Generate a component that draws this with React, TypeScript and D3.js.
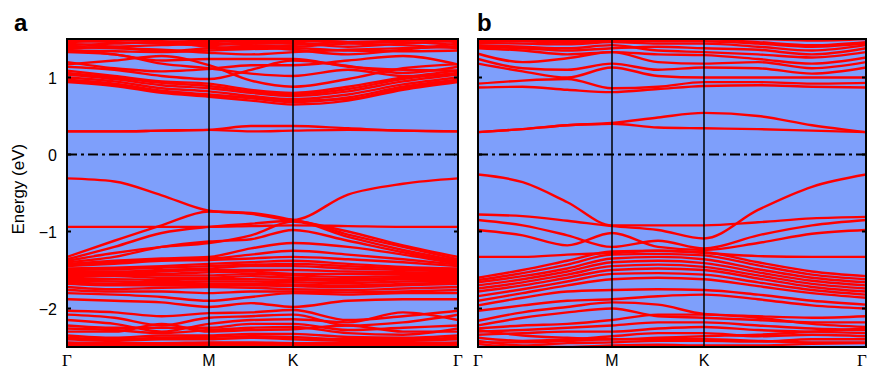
import React, { useEffect, useRef } from 'react';
import * as d3 from 'd3';

// k-path nodes: Γ, 1/3 ΓM, 2/3 ΓM, M, ½ MK, K, 1/3 KΓ, 2/3 KΓ, Γ
const kNodes = [0, 1 / 3, 2 / 3, 1, 1.5, 2, 2 + 1 / 3, 2 + 2 / 3, 3];
const kLabels = ['Γ', 'M', 'K', 'Γ'];
const yTicks = [-2, -1, 0, 1];

// ---- panel a ----
const conductionA = [
  [0.94, 0.89, 0.80, 0.75, 0.70, 0.65, 0.70, 0.84, 0.94],
  [0.96, 0.90, 0.82, 0.77, 0.74, 0.70, 0.72, 0.86, 0.96],
  [0.97, 0.92, 0.83, 0.78, 0.73, 0.68, 0.74, 0.88, 0.97],
  [1.00, 0.95, 0.86, 0.82, 0.76, 0.72, 0.78, 0.91, 1.00],
  [1.04, 0.98, 0.90, 0.86, 0.80, 0.76, 0.82, 0.95, 1.04],
  [1.06, 1.00, 0.93, 0.89, 0.82, 0.78, 0.85, 0.98, 1.06],
  [1.09, 1.02, 0.95, 0.92, 0.84, 0.80, 0.88, 1.00, 1.09],
  [1.14, 1.10, 1.02, 0.98, 1.10, 1.22, 1.15, 1.06, 1.14],
  [1.17, 1.22, 1.28, 1.16, 0.96, 0.88, 0.98, 1.12, 1.17],
  [1.20, 1.12, 1.08, 1.11, 1.16, 1.16, 1.22, 1.28, 1.17],
  [1.33, 1.30, 1.18, 1.12, 1.05, 1.02, 1.10, 1.02, 1.04],
  [1.36, 1.30, 1.22, 1.24, 1.24, 1.24, 1.14, 1.10, 1.09],
  [1.35, 1.34, 1.33, 1.35, 1.37, 1.38, 1.35, 1.34, 1.35],
  [1.38, 1.40, 1.42, 1.44, 1.42, 1.40, 1.44, 1.42, 1.38],
  [1.40, 1.38, 1.36, 1.32, 1.30, 1.33, 1.36, 1.38, 1.40],
  [1.42, 1.44, 1.46, 1.40, 1.38, 1.42, 1.46, 1.46, 1.42],
  [1.44, 1.40, 1.34, 1.38, 1.40, 1.36, 1.30, 1.36, 1.44],
  [1.46, 1.48, 1.50, 1.48, 1.46, 1.46, 1.50, 1.49, 1.46],
  [1.48, 1.46, 1.44, 1.42, 1.44, 1.44, 1.40, 1.44, 1.48],
  [1.50, 1.49, 1.47, 1.46, 1.48, 1.48, 1.46, 1.48, 1.50],
];
const flatA = [
  [0.30, 0.30, 0.31, 0.32, 0.37, 0.37, 0.34, 0.31, 0.30],
  [0.30, 0.30, 0.31, 0.32, 0.30, 0.31, 0.32, 0.31, 0.30],
];
const valenceA = [
  [-0.31, -0.35, -0.53, -0.73, -0.77, -0.85, -0.52, -0.38, -0.31],
  [-0.94, -0.94, -0.94, -0.94, -0.93, -0.92, -0.93, -0.94, -0.94],
  [-1.33, -1.12, -0.92, -0.74, -0.76, -0.85, -1.00, -1.18, -1.33],
  [-1.36, -1.20, -1.02, -0.94, -0.90, -0.86, -1.04, -1.20, -1.36],
  [-1.38, -1.28, -1.20, -1.15, -1.05, -0.87, -1.07, -1.24, -1.38],
  [-1.40, -1.33, -1.20, -1.13, -1.10, -0.98, -1.12, -1.27, -1.40],
  [-1.42, -1.38, -1.35, -1.33, -1.22, -1.15, -1.20, -1.30, -1.42],
  [-1.43, -1.40, -1.36, -1.35, -1.30, -1.25, -1.30, -1.36, -1.43],
  [-1.45, -1.42, -1.38, -1.37, -1.35, -1.33, -1.36, -1.40, -1.45],
  [-1.48, -1.47, -1.45, -1.42, -1.40, -1.38, -1.42, -1.46, -1.48],
  [-1.50, -1.49, -1.47, -1.45, -1.43, -1.42, -1.45, -1.48, -1.50],
  [-1.52, -1.52, -1.50, -1.48, -1.45, -1.45, -1.48, -1.50, -1.52],
  [-1.54, -1.54, -1.52, -1.50, -1.50, -1.50, -1.52, -1.53, -1.54],
  [-1.56, -1.55, -1.55, -1.53, -1.52, -1.55, -1.55, -1.55, -1.56],
  [-1.58, -1.57, -1.57, -1.57, -1.55, -1.57, -1.59, -1.58, -1.58],
  [-1.60, -1.58, -1.60, -1.60, -1.58, -1.60, -1.62, -1.60, -1.60],
  [-1.62, -1.62, -1.63, -1.62, -1.62, -1.63, -1.64, -1.62, -1.62],
  [-1.64, -1.65, -1.66, -1.65, -1.65, -1.66, -1.67, -1.65, -1.64],
  [-1.66, -1.68, -1.68, -1.68, -1.68, -1.69, -1.70, -1.68, -1.66],
  [-1.68, -1.70, -1.70, -1.70, -1.70, -1.71, -1.72, -1.70, -1.68],
  [-1.72, -1.75, -1.73, -1.72, -1.73, -1.75, -1.76, -1.74, -1.72],
  [-1.76, -1.78, -1.78, -1.80, -1.78, -1.78, -1.79, -1.78, -1.76],
  [-1.80, -1.82, -1.85, -1.90, -1.85, -1.80, -1.82, -1.80, -1.80],
  [-1.88, -1.90, -1.92, -1.98, -1.93, -1.98, -1.90, -1.88, -1.88],
  [-2.03, -2.05, -2.10, -2.06, -2.05, -2.02, -2.15, -2.10, -2.03],
  [-2.08, -2.12, -2.22, -2.12, -2.10, -2.08, -2.22, -2.18, -2.08],
  [-2.15, -2.20, -2.30, -2.20, -2.15, -2.14, -2.18, -2.05, -2.15],
  [-2.22, -2.25, -2.25, -2.25, -2.20, -2.20, -2.28, -2.25, -2.22],
  [-2.26, -2.28, -2.32, -2.28, -2.25, -2.24, -2.32, -2.34, -2.26],
  [-2.30, -2.30, -2.20, -2.30, -2.28, -2.27, -2.22, -2.30, -2.30],
  [-2.35, -2.38, -2.35, -2.35, -2.33, -2.33, -2.37, -2.38, -2.35],
  [-2.38, -2.40, -2.38, -2.37, -2.36, -2.37, -2.40, -2.40, -2.38],
  [-2.40, -2.42, -2.40, -2.40, -2.38, -2.40, -2.42, -2.42, -2.40],
  [-2.44, -2.45, -2.45, -2.44, -2.44, -2.45, -2.45, -2.45, -2.44],
  [-2.46, -2.47, -2.46, -2.46, -2.46, -2.46, -2.47, -2.47, -2.46],
  [-2.48, -2.48, -2.48, -2.48, -2.48, -2.48, -2.48, -2.48, -2.48],
];

// ---- panel b ----
const conductionB = [
  [0.87, 0.88, 0.84, 0.81, 0.85, 0.89, 0.90, 0.88, 0.87],
  [0.92, 0.96, 0.98, 0.86, 0.88, 0.94, 0.94, 0.92, 0.93],
  [1.18, 1.08, 1.00, 1.13, 1.02, 1.00, 1.00, 1.00, 1.00],
  [1.24, 1.12, 1.10, 1.18, 1.10, 1.13, 1.12, 1.05, 1.13],
  [1.31, 1.20, 1.25, 1.33, 1.20, 1.18, 1.20, 1.12, 1.20],
  [1.38, 1.35, 1.30, 1.33, 1.30, 1.29, 1.24, 1.18, 1.26],
  [1.40, 1.38, 1.35, 1.38, 1.40, 1.38, 1.36, 1.30, 1.38],
  [1.42, 1.40, 1.38, 1.42, 1.35, 1.33, 1.30, 1.26, 1.33],
  [1.45, 1.44, 1.43, 1.46, 1.44, 1.44, 1.40, 1.35, 1.42],
  [1.46, 1.47, 1.45, 1.48, 1.47, 1.47, 1.44, 1.40, 1.44],
  [1.48, 1.48, 1.47, 1.50, 1.49, 1.50, 1.46, 1.42, 1.46],
  [1.50, 1.50, 1.50, 1.50, 1.50, 1.50, 1.50, 1.48, 1.50],
];
const flatB = [
  [0.29, 0.33, 0.38, 0.41, 0.48, 0.54, 0.50, 0.38, 0.29],
  [0.29, 0.33, 0.38, 0.40, 0.35, 0.34, 0.33, 0.31, 0.29],
];
const valenceB = [
  [-0.26, -0.36, -0.62, -0.92, -0.92, -0.92, -0.88, -0.83, -0.81],
  [-0.78, -0.80, -0.86, -0.93, -0.98, -1.09, -0.72, -0.42, -0.26],
  [-0.85, -0.92, -1.05, -1.20, -1.12, -1.22, -1.05, -0.92, -0.85],
  [-0.98, -1.05, -1.18, -1.02, -1.20, -1.24, -1.15, -1.03, -0.98],
  [-1.33, -1.33, -1.30, -1.28, -1.25, -1.28, -1.32, -1.33, -1.33],
  [-1.60, -1.50, -1.38, -1.26, -1.25, -1.27, -1.40, -1.52, -1.58],
  [-1.63, -1.54, -1.43, -1.30, -1.29, -1.31, -1.44, -1.56, -1.62],
  [-1.66, -1.58, -1.48, -1.35, -1.33, -1.36, -1.49, -1.60, -1.66],
  [-1.70, -1.62, -1.52, -1.40, -1.38, -1.41, -1.53, -1.64, -1.70],
  [-1.74, -1.66, -1.56, -1.45, -1.43, -1.46, -1.57, -1.68, -1.74],
  [-1.78, -1.70, -1.60, -1.50, -1.48, -1.50, -1.61, -1.72, -1.78],
  [-1.84, -1.75, -1.65, -1.55, -1.54, -1.56, -1.66, -1.76, -1.82],
  [-1.90, -1.80, -1.70, -1.62, -1.60, -1.62, -1.71, -1.80, -1.86],
  [-1.96, -1.86, -1.78, -1.76, -1.75, -1.76, -1.82, -1.90, -1.95],
  [-2.03, -1.96, -1.90, -1.88, -1.84, -1.82, -1.88, -1.96, -2.00],
  [-2.16, -2.05, -1.98, -1.92, -1.95, -2.07, -2.10, -2.12, -2.10],
  [-2.22, -2.12, -2.05, -2.00, -2.10, -2.12, -2.15, -2.18, -2.18],
  [-2.26, -2.22, -2.20, -2.15, -2.08, -2.08, -2.12, -2.20, -2.24],
  [-2.28, -2.35, -2.38, -2.40, -2.38, -2.36, -2.34, -2.30, -2.26],
  [-2.30, -2.28, -2.25, -2.22, -2.18, -2.18, -2.22, -2.26, -2.28],
  [-2.34, -2.32, -2.30, -2.30, -2.26, -2.24, -2.28, -2.30, -2.32],
  [-2.38, -2.42, -2.40, -2.36, -2.32, -2.32, -2.36, -2.34, -2.36],
  [-2.42, -2.48, -2.45, -2.44, -2.42, -2.42, -2.43, -2.40, -2.40],
  [-2.44, -2.44, -2.42, -2.40, -2.40, -2.40, -2.42, -2.44, -2.44],
  [-2.46, -2.50, -2.50, -2.48, -2.47, -2.48, -2.48, -2.46, -2.45],
];

const App: React.FC = () => {
  const svgRef = useRef<SVGSVGElement | null>(null);

  useEffect(() => {
    if (!svgRef.current) return;
    const width = 869;
    const height = 371;
    const svg = d3.select(svgRef.current);
    svg.selectAll('*').remove();

    const sans = 'Liberation Sans, Arial, Helvetica, sans-serif';
    const serif = 'Liberation Serif, Times New Roman, serif';
    const bgColor = '#7e9ffb';
    const bandColor = '#ff0000';

    const top = 39;
    const bottom = 347;
    const yScale = d3.scaleLinear().domain([-2.5, 1.5]).range([bottom, top]);

    const panels = [
      { id: 'a', xs: [67, 209, 293, 458], bands: [...conductionA, ...flatA, ...valenceA], showY: true },
      { id: 'b', xs: [478, 612, 704, 866], bands: [...conductionB, ...flatB, ...valenceB], showY: false },
    ];

    panels.forEach(p => {
      const xScale = d3.scaleLinear().domain([0, 1, 2, 3]).range(p.xs);
      const x0 = p.xs[0];
      const x1 = p.xs[3];
      const g = svg.append('g');

      const clipId = `clip-${p.id}`;
      svg.append('clipPath').attr('id', clipId)
        .append('rect').attr('x', x0).attr('y', top).attr('width', x1 - x0).attr('height', bottom - top);

      // background
      g.append('rect').attr('x', x0).attr('y', top).attr('width', x1 - x0).attr('height', bottom - top)
        .attr('fill', bgColor);

      // bands
      const line = d3.line<number>()
        .x((_d, i) => xScale(kNodes[i]))
        .y(d => yScale(d))
        .curve(d3.curveMonotoneX);
      g.append('g').attr('clip-path', `url(#${clipId})`)
        .selectAll('path').data(p.bands).enter().append('path')
        .attr('d', d => line(d))
        .attr('fill', 'none').attr('stroke', bandColor).attr('stroke-width', 2.4);

      // Fermi level
      g.append('line').attr('x1', x0).attr('x2', x1).attr('y1', yScale(0)).attr('y2', yScale(0))
        .attr('stroke', '#000').attr('stroke-width', 2).attr('stroke-dasharray', '10,4,3,4');

      // high-symmetry lines
      [1, 2].forEach(k => {
        g.append('line').attr('x1', xScale(k)).attr('x2', xScale(k)).attr('y1', top).attr('y2', bottom)
          .attr('stroke', '#000').attr('stroke-width', 1.5);
      });

      // ticks
      yTicks.forEach(t => {
        g.append('line').attr('x1', x0).attr('x2', x0 + 4).attr('y1', yScale(t)).attr('y2', yScale(t))
          .attr('stroke', '#000').attr('stroke-width', 2);
        g.append('line').attr('x1', x1 - 4).attr('x2', x1).attr('y1', yScale(t)).attr('y2', yScale(t))
          .attr('stroke', '#000').attr('stroke-width', 2);
      });

      // frame
      g.append('rect').attr('x', x0).attr('y', top).attr('width', x1 - x0).attr('height', bottom - top)
        .attr('fill', 'none').attr('stroke', '#000').attr('stroke-width', 2);

      // k labels (last one nudged in so it stays inside the picture)
      kLabels.forEach((lab, i) => {
        const lx = Math.min(xScale(i), width - 7);
        g.append('text').attr('x', lx).attr('y', 366).attr('text-anchor', 'middle')
          .attr('font-family', lab === 'Γ' ? serif : sans).attr('font-size', lab === 'Γ' ? 17 : 16)
          .attr('fill', '#000').text(lab);
      });

      // panel letter
      g.append('text').attr('x', p.id === 'a' ? 14 : 477).attr('y', 31)
        .attr('font-family', sans).attr('font-weight', 'bold').attr('font-size', 24).text(p.id);

      if (p.showY) {
        yTicks.forEach(t => {
          g.append('text').attr('x', x0 - 10).attr('y', yScale(t) + 6).attr('text-anchor', 'end')
            .attr('font-family', sans).attr('font-size', 16)
            .text(t < 0 ? `\u2212${Math.abs(t)}` : `${t}`);
        });
        g.append('text').attr('transform', `translate(24, ${yScale(-0.45)}) rotate(-90)`)
          .attr('text-anchor', 'middle').attr('font-family', sans).attr('font-size', 17)
          .text('Energy (eV)');
      }
    });

    svg.attr('width', width).attr('height', height);
  }, []);

  return (
    <div style={{ position: 'absolute', left: 0, top: 0, background: '#fff' }}>
      <svg ref={svgRef} width={869} height={371} style={{ display: 'block' }} />
    </div>
  );
};

export default App;
